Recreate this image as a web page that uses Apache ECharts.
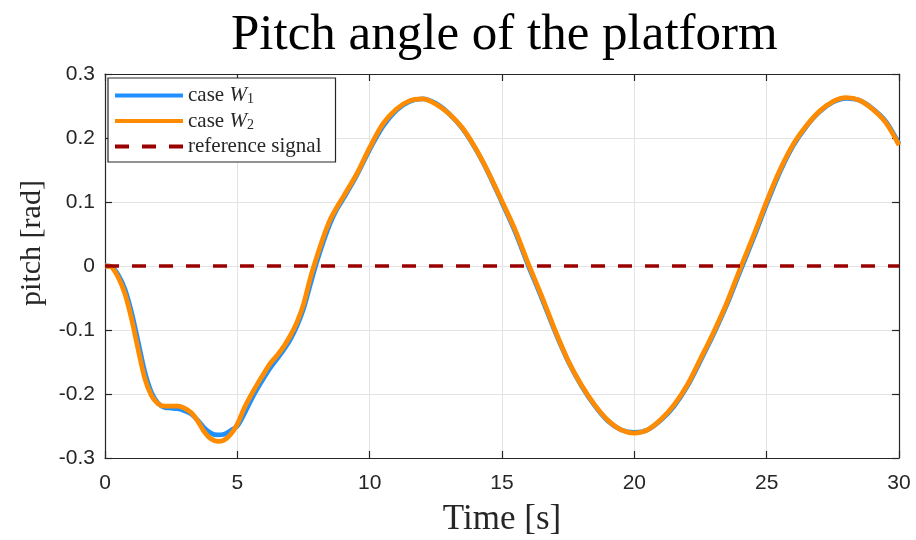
<!DOCTYPE html>
<html>
<head>
<meta charset="utf-8">
<script src="https://cdn.jsdelivr.net/npm/echarts@6/dist/echarts.min.js"></script>
<style>html,body{margin:0;padding:0;background:#fff}#c{width:916px;height:540px}</style>
</head>
<body>
<div id="c"></div>
<script>
// ---- data ----
const time = [0,0.25,0.5,0.75,1,1.25,1.5,1.75,2,2.25,2.5,2.75,3,3.25,3.5,3.75,4,4.25,4.5,4.75,5,5.25,5.5,5.75,6,6.25,6.5,6.75,7,7.25,7.5,7.75,8,8.25,8.5,8.75,9,9.5,10,10.5,11,11.5,12,12.5,13,13.5,14,14.5,15,15.5,16,16.5,17,17.5,18,18.5,19,19.5,20,20.5,21,21.5,22,22.5,23,23.5,24,24.5,25,25.5,26,26.5,27,27.5,28,28.5,29,29.5,30];
const caseW1 = [0,-0.001,-0.014,-0.036,-0.072,-0.118,-0.165,-0.197,-0.214,-0.221,-0.222,-0.223,-0.226,-0.231,-0.241,-0.253,-0.261,-0.264,-0.263,-0.257,-0.250,-0.232,-0.211,-0.192,-0.175,-0.159,-0.145,-0.131,-0.115,-0.094,-0.067,-0.030,0.006,0.038,0.066,0.088,0.105,0.141,0.182,0.218,0.243,0.257,0.261,0.254,0.238,0.215,0.183,0.144,0.099,0.053,0.000,-0.050,-0.102,-0.149,-0.187,-0.218,-0.242,-0.256,-0.260,-0.256,-0.241,-0.219,-0.188,-0.148,-0.106,-0.060,-0.008,0.043,0.097,0.147,0.188,0.218,0.241,0.256,0.262,0.259,0.246,0.226,0.191];
const caseW2 = [0,-0.002,-0.018,-0.043,-0.082,-0.130,-0.175,-0.202,-0.215,-0.219,-0.219,-0.219,-0.222,-0.229,-0.242,-0.259,-0.270,-0.274,-0.272,-0.263,-0.247,-0.223,-0.203,-0.185,-0.168,-0.152,-0.140,-0.126,-0.109,-0.088,-0.060,-0.020,0.014,0.045,0.072,0.091,0.108,0.143,0.185,0.222,0.245,0.258,0.261,0.253,0.238,0.216,0.184,0.145,0.101,0.056,0.003,-0.047,-0.100,-0.148,-0.186,-0.217,-0.241,-0.256,-0.261,-0.256,-0.240,-0.217,-0.186,-0.145,-0.103,-0.057,-0.004,0.047,0.101,0.150,0.190,0.219,0.242,0.257,0.263,0.259,0.245,0.224,0.189];
const refTime = [0, 30];
const refValues = [0, 0];
const xTicks = [0, 5, 10, 15, 20, 25, 30];
const yTickLabels = ['-0.3', '-0.2', '-0.1', '0', '0.1', '0.2', '0.3'];
const seriesNames = ['case W1', 'case W2', 'reference signal'];

const pairs = (xs, ys) => xs.map((x, i) => [x, ys[i]]);
const serif = "'Liberation Serif', 'DejaVu Serif', serif";
const sans = "'Liberation Sans', Arial, sans-serif";
const ink = '#262626';

const chart = echarts.init(document.getElementById('c'), null, {renderer: 'canvas'});
const yLabel = v => {
  const k = Math.round(v * 10) + 3;
  return yTickLabels[k] !== undefined ? yTickLabels[k] : '';
};
const boxAxis = {
  axisLine: {show: true, onZero: false, lineStyle: {color: ink, width: 1.2}},
  axisTick: {show: true, inside: true, length: 7, lineStyle: {color: ink, width: 1.2}},
  axisLabel: {show: false},
  splitLine: {show: false}
};
const dashIcon = 'path://M0,0h14v4h-14z M27,0h14v4h-14z M54,0h14v4h-14z';
chart.setOption({
  animation: false,
  backgroundColor: '#fff',
  title: {
    text: 'Pitch angle of the platform',
    left: 226, top: 5,
    textStyle: {fontFamily: serif, fontSize: 51, fontWeight: 'normal', color: '#000'}
  },
  grid: {left: 105, right: 17, top: 74, bottom: 82, containLabel: false, outerBoundsMode: 'none'},
  legend: {
    orient: 'vertical', left: 108, top: 78,
    padding: [7, 14, 5, 7], itemGap: 4,
    itemWidth: 68, itemHeight: 4,
    borderColor: ink, borderWidth: 1.2, backgroundColor: '#fff',
    data: [
      {name: seriesNames[0], icon: 'rect'},
      {name: seriesNames[1], icon: 'rect'},
      {name: seriesNames[2], icon: dashIcon}
    ],
    formatter: name => {
      if (name === 'case W1') return '{n|case }{w|W}{s|1}';
      if (name === 'case W2') return '{n|case }{w|W}{s|2}';
      return '{n|' + name + '}';
    },
    textStyle: {
      fontFamily: serif, fontSize: 21, color: ink,
      rich: {
        n: {fontFamily: serif, fontSize: 21, color: ink, lineHeight: 22},
        w: {fontFamily: serif, fontSize: 21, fontStyle: 'italic', color: ink, lineHeight: 22},
        s: {fontFamily: serif, fontSize: 14, color: ink, lineHeight: 10, verticalAlign: 'bottom'}
      }
    }
  },
  xAxis: [
    {
      type: 'value', min: 0, max: 30, interval: 5,
      name: 'Time [s]', nameLocation: 'middle', nameGap: 44,
      nameTextStyle: {fontFamily: serif, fontSize: 35, color: ink},
      axisLine: {show: true, onZero: false, lineStyle: {color: ink, width: 1.2}},
      axisTick: {show: true, inside: true, length: 7, lineStyle: {color: ink, width: 1.2}},
      axisLabel: {fontFamily: sans, fontSize: 21, color: ink, margin: 15,
        formatter: v => xTicks.indexOf(v) >= 0 ? String(v) : ''},
      splitLine: {show: true, lineStyle: {color: '#e3e3e3', width: 1}}
    },
    Object.assign({type: 'value', min: 0, max: 30, interval: 5, position: 'top'}, boxAxis)
  ],
  yAxis: [
    {
      type: 'value', min: -0.3, max: 0.3, interval: 0.1,
      name: 'pitch [rad]', nameLocation: 'middle', nameGap: 58,
      nameTextStyle: {fontFamily: serif, fontSize: 30, color: ink, padding: [0, 0, 0, 46]},
      axisLine: {show: true, onZero: false, lineStyle: {color: ink, width: 1.2}},
      axisTick: {show: true, inside: true, length: 7, lineStyle: {color: ink, width: 1.2}},
      axisLabel: {fontFamily: sans, fontSize: 21, color: ink, margin: 10, formatter: yLabel},
      splitLine: {show: true, lineStyle: {color: '#e3e3e3', width: 1}}
    },
    Object.assign({type: 'value', min: -0.3, max: 0.3, interval: 0.1, position: 'right'}, boxAxis)
  ],
  series: [
    {
      name: seriesNames[0], type: 'line', xAxisIndex: 0, yAxisIndex: 0,
      data: pairs(time, caseW1), smooth: 0.3, showSymbol: false, symbol: 'none',
      lineStyle: {color: '#1e90ff', width: 4.8}, itemStyle: {color: '#1e90ff'}, z: 2
    },
    {
      name: seriesNames[1], type: 'line', xAxisIndex: 0, yAxisIndex: 0,
      data: pairs(time, caseW2), smooth: 0.3, showSymbol: false, symbol: 'none',
      lineStyle: {color: '#ff8c00', width: 4.8}, itemStyle: {color: '#ff8c00'}, z: 3
    },
    {
      name: seriesNames[2], type: 'line', xAxisIndex: 0, yAxisIndex: 0,
      data: pairs(refTime, refValues), showSymbol: false, symbol: 'none',
      lineStyle: {color: '#9b0000', width: 3.5, type: [14, 13]}, itemStyle: {color: '#9b0000'}, z: 4
    }
  ]
});
</script>
</body>
</html>
